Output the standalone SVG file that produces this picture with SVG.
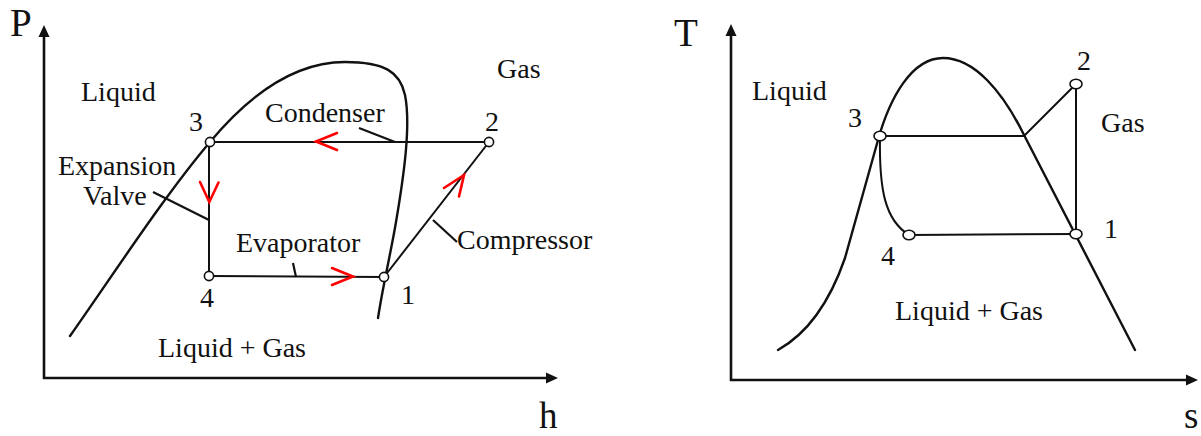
<svg xmlns="http://www.w3.org/2000/svg" width="1201" height="436" viewBox="0 0 1201 436">
<style>
  text { font-family: "Liberation Serif", "Times New Roman", serif; fill: #111; }
  .lbl { font-size: 28px; }
  .ax { font-size: 39px; }
  .axb { font-size: 37px; }
  .curve { fill: none; stroke: #111; stroke-width: 2.4; stroke-linecap: round; }
  .axis { fill: none; stroke: #111; stroke-width: 2.6; }
  .line { fill: none; stroke: #111; stroke-width: 2; }
  .lead { fill: none; stroke: #111; stroke-width: 2.2; }
  .red { fill: none; stroke: #ff0000; stroke-width: 2.6; stroke-linecap: round; stroke-linejoin: miter; }
  .pt { fill: #fff; stroke: #111; stroke-width: 1.6; }
  .head { fill: #111; stroke: none; }
</style>
<rect width="1201" height="436" fill="#fff"/>

<!-- ===== Left: P-h diagram ===== -->
<g id="ph-axes">
  <line class="axis" x1="44" y1="379" x2="44" y2="34"/>
  <polygon class="head" points="44,25 38.5,37 49.5,37"/>
  <line class="axis" x1="43" y1="378" x2="548" y2="378"/>
  <polygon class="head" points="558,378 546,372.5 546,383.5"/>
  <text class="ax" x="10" y="36">P</text>
  <text class="axb" x="539" y="428">h</text>
</g>
<g id="ph-dome">
  <path class="curve" d="M70,336 C115,272 165,195 210,142 C245,100 290,62 345,62 C385,62 400,72 405,95 C411,125 404,175 396,222 C391,252 383,285 378,318"/>
</g>
<g id="ph-connectors">
  <line class="line" x1="210" y1="142" x2="489" y2="142"/>
  <line class="line" x1="489" y1="142" x2="384" y2="277"/>
  <line class="line" x1="209" y1="142" x2="209" y2="276"/>
  <line class="line" x1="209" y1="276" x2="384" y2="277"/>
  <line class="lead" x1="359" y1="128" x2="395" y2="142"/>
  <line class="lead" x1="153" y1="192" x2="209" y2="220"/>
  <line class="lead" x1="293" y1="263" x2="296" y2="277"/>
  <line class="lead" x1="433" y1="220" x2="457" y2="242"/>
  <polyline class="red" points="337,133 316,141.5 337,150"/>
  <polyline class="red" points="200,182 209.3,202 218.5,182.5"/>
  <polyline class="red" points="332,268 353,276.5 332,285"/>
  <polyline class="red" points="444,188 464,175 459,196.5"/>
</g>
<g id="ph-node-1"><circle class="pt" cx="384" cy="277" r="4.6"/><text class="lbl" x="401" y="304">1</text></g>
<g id="ph-node-2"><circle class="pt" cx="489" cy="142" r="4.6"/><text class="lbl" x="485" y="131">2</text></g>
<g id="ph-node-3"><circle class="pt" cx="210" cy="142" r="4.6"/><text class="lbl" x="189" y="131">3</text></g>
<g id="ph-node-4"><circle class="pt" cx="209" cy="276" r="4.6"/><text class="lbl" x="200" y="307">4</text></g>
<g id="ph-labels">
  <text class="lbl" x="81" y="101">Liquid</text>
  <text class="lbl" x="497" y="78">Gas</text>
  <text class="lbl" x="265" y="122">Condenser</text>
  <text class="lbl" x="58" y="175">Expansion</text>
  <text class="lbl" x="83" y="205">Valve</text>
  <text class="lbl" x="236" y="252">Evaporator</text>
  <text class="lbl" x="457" y="249">Compressor</text>
  <text class="lbl" x="158" y="357">Liquid + Gas</text>
</g>

<!-- ===== Right: T-s diagram ===== -->
<g id="ts-axes">
  <line class="axis" x1="731" y1="381" x2="731" y2="33"/>
  <polygon class="head" points="731,24 725.5,36 736.5,36"/>
  <line class="axis" x1="730" y1="380" x2="1188" y2="380"/>
  <polygon class="head" points="1198,380 1186,374.5 1186,385.5"/>
  <text class="ax" x="674" y="46">T</text>
  <text class="axb" x="1184" y="428">s</text>
</g>
<g id="ts-dome">
  <path class="curve" d="M778,350 C803,336 827,310 845,258 L878,140 C890,97 912,58 943,58 C975,58 1003,93 1023,133 L1135,350"/>
</g>
<g id="ts-connectors">
  <polyline class="line" points="880,136 1024,136 1076,84"/>
  <line class="line" x1="1076" y1="84" x2="1076" y2="234"/>
  <line class="line" x1="909" y1="235" x2="1076" y2="234"/>
  <path class="line" d="M880,136 C879,190 885,220 909,235"/>
</g>
<g id="ts-node-1"><ellipse class="pt" cx="1076" cy="234" rx="6" ry="4.8"/><text class="lbl" x="1104" y="238">1</text></g>
<g id="ts-node-2"><ellipse class="pt" cx="1076" cy="84" rx="6" ry="4.8"/><text class="lbl" x="1077" y="70">2</text></g>
<g id="ts-node-3"><ellipse class="pt" cx="880" cy="136" rx="6" ry="4.8"/><text class="lbl" x="848" y="127">3</text></g>
<g id="ts-node-4"><ellipse class="pt" cx="909" cy="235" rx="6" ry="4.8"/><text class="lbl" x="881" y="265">4</text></g>
<g id="ts-labels">
  <text class="lbl" x="752" y="100">Liquid</text>
  <text class="lbl" x="1101" y="132">Gas</text>
  <text class="lbl" x="895" y="320">Liquid + Gas</text>
</g>
</svg>
